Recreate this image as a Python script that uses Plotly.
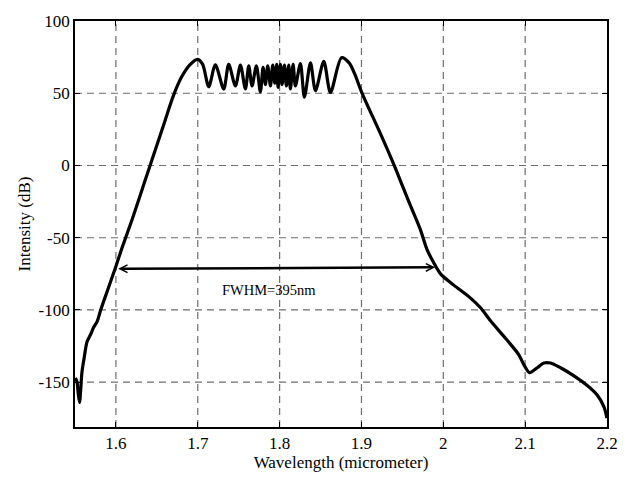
import plotly.graph_objects as go

# ---- data ----
wavelength = [
    1.5505, 1.5525, 1.5540, 1.5555, 1.5570, 1.5585, 1.5615, 1.5647, 1.5690, 1.5728,
    1.5770, 1.5814, 1.5900, 1.5989, 1.6075, 1.6200, 1.6300, 1.6400, 1.6500, 1.6600,
    1.6700, 1.6800, 1.6900, 1.6999, 1.7060, 1.7134, 1.7215, 1.7317, 1.7378, 1.7460,
    1.7521, 1.7582, 1.7623, 1.7663, 1.7716, 1.7765, 1.7798, 1.7826, 1.7855, 1.7888,
    1.7916, 1.7941, 1.7965, 1.7981, 1.8010, 1.8030, 1.8059, 1.8083, 1.8112, 1.8132,
    1.8165, 1.8193, 1.8254, 1.8303, 1.8377, 1.8438, 1.8540, 1.8621, 1.8756, 1.8850,
    1.8920, 1.9000, 1.9232, 1.9400, 1.9500, 1.9600, 1.9722, 1.9800, 1.9880, 1.9966,
    2.0128, 2.0333, 2.0455, 2.0577, 2.0781, 2.0923, 2.0984, 2.1054, 2.1148, 2.1229,
    2.1310, 2.1433, 2.1596, 2.1759, 2.1882, 2.1963, 2.2000,
]
intensity = [
    -147.0, -150.0, -158.0, -164.0, -155.0, -143.0, -132.0, -122.0, -117.0, -112.0,
    -108.0, -100.0, -86.0, -71.6, -57.0, -37.0, -20.0, -3.0, 14.0, 31.0,
    48.0, 61.0, 69.5, 73.5, 70.0, 54.5, 69.7, 52.9, 70.0, 55.0,
    69.5, 53.0, 69.0, 55.0, 69.0, 51.0, 68.0, 56.0, 69.0, 55.0,
    69.5, 57.0, 70.0, 54.0, 70.0, 56.0, 69.5, 55.0, 69.5, 53.0,
    70.0, 55.0, 70.5, 47.3, 71.0, 51.8, 72.0, 50.5, 74.6, 71.0,
    63.0, 51.0, 22.0, 0.0, -14.0, -28.0, -44.7, -58.0, -67.0, -75.0,
    -82.8, -91.8, -98.5, -107.5, -121.0, -131.0, -137.8, -143.4, -140.0, -136.7,
    -136.7, -140.0, -145.6, -152.3, -159.0, -167.0, -174.8,
]

x_ticks = [1.6, 1.7, 1.8, 1.9, 2.0, 2.1, 2.2]
x_ticklabels = ["1.6", "1.7", "1.8", "1.9", "2", "2.1", "2.2"]
y_ticks = [100, 50, 0, -50, -100, -150]
y_ticklabels = ["100", "50", "0", "-50", "-100", "-150"]

fwhm_start = [1.601, -71.5]
fwhm_end = [1.990, -70.5]
fwhm_label = "FWHM=395nm"
fwhm_label_pos = [1.7867, -86.0]

FONT = "Liberation Serif, Times New Roman, serif"

fig = go.Figure()
fig.add_trace(go.Scatter(
    x=wavelength, y=intensity, mode="lines",
    line=dict(color="black", width=3.2, shape="spline", smoothing=0.8),
    showlegend=False, hoverinfo="skip",
))

# dashed grid lines drawn as shapes (MATLAB-like)
for xv in x_ticks[:-1]:
    fig.add_shape(type="line", xref="x", yref="paper", x0=xv, x1=xv, y0=0, y1=1,
                  line=dict(color="#6e6e6e", width=1.2, dash="7px,5px"), layer="below")
for yv in y_ticks[1:]:
    fig.add_shape(type="line", xref="paper", yref="y", x0=0, x1=1, y0=yv, y1=yv,
                  line=dict(color="#6e6e6e", width=1.2, dash="7px,5px"), layer="below")

fig.add_annotation(
    x=fwhm_end[0], y=fwhm_end[1], ax=fwhm_start[0], ay=fwhm_start[1],
    xref="x", yref="y", axref="x", ayref="y", text="",
    showarrow=True, arrowhead=5, startarrowhead=5, arrowside="end+start",
    arrowsize=0.6, startarrowsize=0.6, arrowwidth=2.5, arrowcolor="black",
)
fig.add_annotation(
    x=fwhm_label_pos[0], y=fwhm_label_pos[1], xref="x", yref="y",
    text=fwhm_label, showarrow=False,
    font=dict(family=FONT, size=14.5, color="black"),
)

fig.update_layout(
    width=632, height=481,
    margin=dict(l=75, r=25, t=15, b=48),
    paper_bgcolor="white", plot_bgcolor="white",
    font=dict(family=FONT, size=17, color="black"),
    xaxis=dict(
        range=[1.55, 2.2], tickvals=x_ticks, ticktext=x_ticklabels,
        showgrid=False, zeroline=False,
        showline=True, linecolor="black", linewidth=1.8, mirror="ticks",
        ticks="inside", ticklen=5, tickcolor="black", tickwidth=1,
        title=dict(text="Wavelength (micrometer)", standoff=4,
                   font=dict(family=FONT, size=17)),
        tickfont=dict(family=FONT, size=17),
    ),
    yaxis=dict(
        range=[-181, 100], tickvals=y_ticks, ticktext=y_ticklabels,
        showgrid=False, zeroline=False,
        showline=True, linecolor="black", linewidth=1.8, mirror="ticks",
        ticks="inside", ticklen=5, tickcolor="black", tickwidth=1,
        title=dict(text="Intensity (dB)", standoff=4,
                   font=dict(family=FONT, size=17)),
        tickfont=dict(family=FONT, size=17),
    ),
)

fig.write_html("out.html")
